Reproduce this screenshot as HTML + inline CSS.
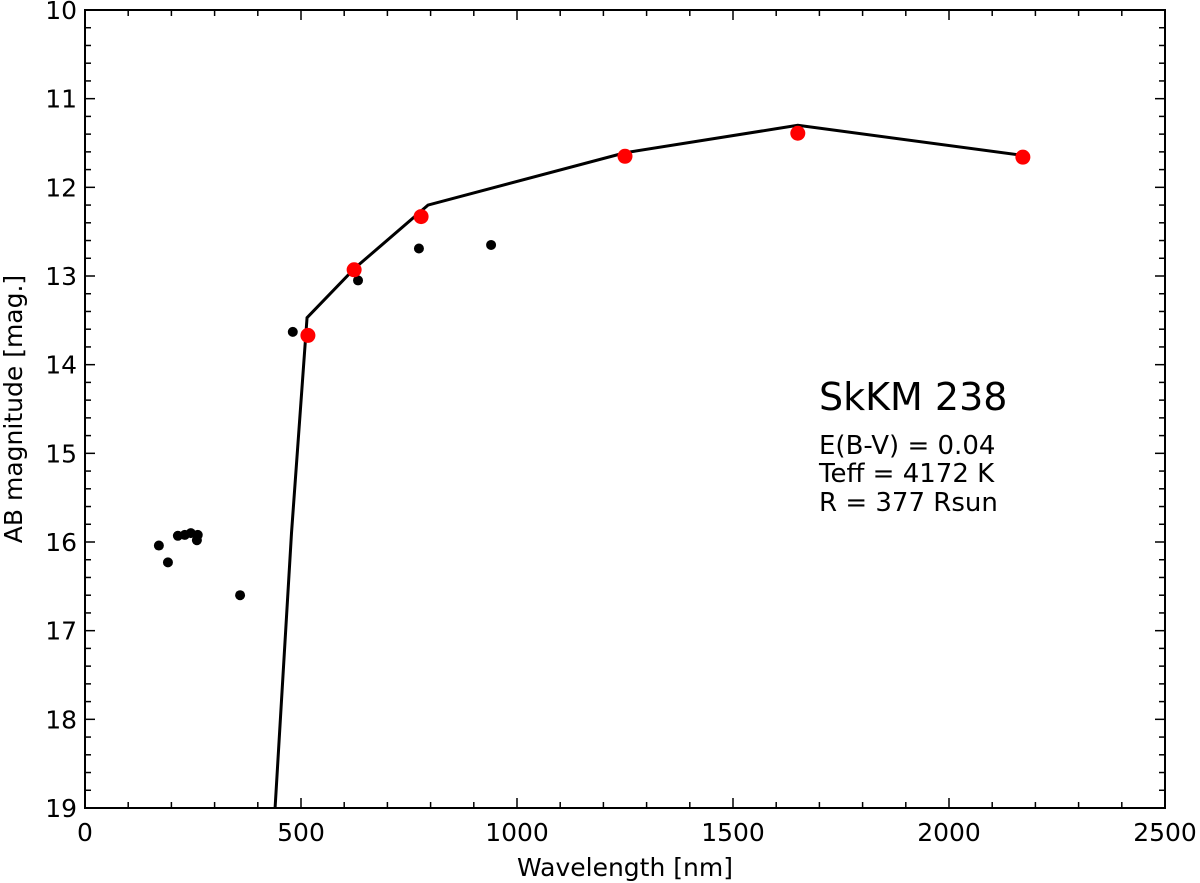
<!DOCTYPE html>
<html><head><meta charset="utf-8"><style>
html,body{margin:0;padding:0;background:#fff;}
svg{display:block;font-family:"DejaVu Sans","Liberation Sans",sans-serif;}
</style></head><body>
<svg id="chart" width="1200" height="883" viewBox="0 0 1200 883">
<g id="ticks"></g>
<g id="marks"></g>
<rect x="85" y="10" width="1080" height="798" fill="none" stroke="#000" stroke-width="2"/>
<text x="625" y="876" font-size="25" text-anchor="middle">Wavelength [nm]</text>
<text transform="translate(22,409) rotate(-90)" font-size="25" text-anchor="middle">AB magnitude [mag.]</text>
<text x="819" y="410" font-size="38">SkKM 238</text>
<text x="819" y="454" font-size="26">E(B-V) = 0.04</text>
<text x="819" y="482" font-size="26">Teff = 4172 K</text>
<text x="819" y="511" font-size="26">R = 377 Rsun</text>
</svg>
<script>
const modelWave=[440,478,514,625,794,1250,1650,2171];
const modelMag=[19.0,15.9,13.47,12.91,12.2,11.61,11.3,11.64];
const redWave=[516,623,778,1250,1650,2171];
const redMag=[13.67,12.93,12.33,11.65,11.39,11.66];
const blackWave=[171,192,215,231,245,259,261,359,481,632,773,940];
const blackMag=[16.04,16.23,15.93,15.92,15.9,15.98,15.92,16.6,13.63,13.05,12.69,12.65];
const xTicks=[0,500,1000,1500,2000,2500];
const yTicks=[10,11,12,13,14,15,16,17,18,19];
const NS="http://www.w3.org/2000/svg";
const X0=85,X1=1165,Y0=10,Y1=808;
const xs=v=>X0+(v-0)/2500*(X1-X0);
const ys=v=>Y0+(v-10)/9*(Y1-Y0);
function mk(t,a,p){const e=document.createElementNS(NS,t);for(const k in a)e.setAttribute(k,a[k]);p.appendChild(e);return e;}
const tg=document.getElementById('ticks'),mg=document.getElementById('marks');
for(let v=0;v<=2500;v+=100){const x=xs(v);const L=v%500===0?10:6;
 let l=mk('line',{x1:x,x2:x,y1:Y1,y2:Y1-L,stroke:'#000','stroke-width':1.5},tg);
 
 
 l=mk('line',{x1:x,x2:x,y1:Y0,y2:Y0+L,stroke:'#000','stroke-width':1.5},tg);
 
 }
for(let i=0;i<=45;i++){const v=10+i*0.2;const y=ys(v);const L=i%5===0?10:6;
 let l=mk('line',{x1:X0,x2:X0+L,y1:y,y2:y,stroke:'#000','stroke-width':1.5},tg);
 
 
 l=mk('line',{x1:X1,x2:X1-L,y1:y,y2:y,stroke:'#000','stroke-width':1.5},tg);
 
 }
xTicks.forEach(v=>{const t=mk('text',{x:xs(v),y:Y1+33,'font-size':25,'text-anchor':'middle'},tg);t.textContent=v;
 
 });
yTicks.forEach(v=>{const t=mk('text',{x:X0-8,y:ys(v)+9,'font-size':25,'text-anchor':'end'},tg);t.textContent=v;
 
 });
const cp=mk('clipPath',{id:'clip'},mg);
mk('rect',{x:X0,y:Y0,width:X1-X0,height:Y1-Y0},cp);
const pl=mk('polyline',{points:modelWave.map((w,i)=>xs(w)+','+ys(modelMag[i])).join(' '),fill:'none',stroke:'#000','stroke-width':3,'clip-path':'url(#clip)'},mg);


blackWave.forEach((w,i)=>{const c=mk('circle',{cx:xs(w),cy:ys(blackMag[i]),r:5,fill:'#000'},mg);
 
 });
redWave.forEach((w,i)=>{const c=mk('circle',{cx:xs(w),cy:ys(redMag[i]),r:7.5,fill:'#ff0000'},mg);
 
 });
</script>
</body></html>
